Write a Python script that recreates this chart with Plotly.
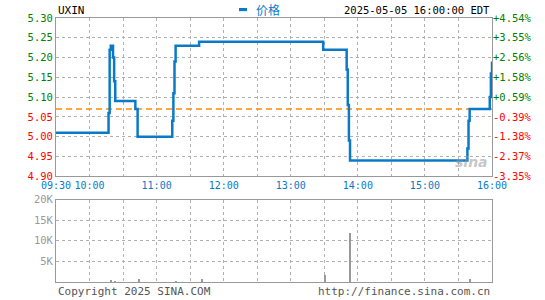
import plotly.graph_objects as go

# ---------------- data ----------------
symbol = "UXIN"
stamp = "2025-05-05 16:00:00 EDT"
prev_close = 5.07

price_times = ["09:30", "10:17", "10:18", "10:19", "10:21", "10:22", "10:23",
               "10:41", "10:43", "11:14", "11:15", "11:16", "11:17", "11:38",
               "13:29", "13:50", "13:51", "13:52", "13:53", "15:38", "15:39",
               "15:40", "15:58", "15:59", "16:00"]
price_values = [5.01, 5.06, 5.22, 5.23, 5.20, 5.14, 5.09,
                5.07, 5.00, 5.04, 5.11, 5.19, 5.23, 5.24,
                5.22, 5.17, 5.08, 4.99, 4.94, 4.97, 5.04,
                5.07, 5.10, 5.16, 5.19]

vol_times = ["10:19", "10:23", "10:44", "11:17", "11:41", "13:31", "13:53", "15:40"]
vol_values = [500, 250, 750, 250, 750, 1850, 12000, 750]

price_ticks = [4.90, 4.95, 5.00, 5.05, 5.10, 5.15, 5.20, 5.25, 5.30]
vol_ticks = [5000, 10000, 15000, 20000]
vol_ticktext = ["5K", "10K", "15K", "20K"]
time_ticks = ["09:30", "10:00", "10:30", "11:00", "11:30", "12:00", "12:30",
              "13:00", "13:30", "14:00", "14:30", "15:00", "15:30", "16:00"]
time_labels = ["09:30", "10:00", "", "11:00", "", "12:00", "",
               "13:00", "", "14:00", "", "15:00", "", "16:00"]


def mins(t):
    h, m = t.split(":")
    return (int(h) - 9) * 60 + int(m) - 30


px = [mins(t) for t in price_times]
vx = [mins(t) for t in vol_times]
tx = [mins(t) for t in time_ticks]

GREEN = "#008000"
RED = "#ff0000"
BLUE = "#0a7ac8"
GRAY = "#999999"
FONT = "DejaVu Sans Mono"

left_text = []
right_text = []
for p in price_ticks:
    col = GREEN if p > prev_close else RED
    left_text.append(f"<span style='color:{col}'>{p:.2f}</span>")
    pct = (p / prev_close - 1) * 100
    right_text.append(f"<span style='color:{col}'>{pct:+.2f}%</span>")

fig = go.Figure()

fig.add_trace(go.Scatter(
    x=[0, 390], y=[prev_close, prev_close], mode="lines",
    line=dict(color="#ff8c00", width=1.5, dash="6px,4px"),
    xaxis="x", yaxis="y", showlegend=False, hoverinfo="skip"))

fig.add_trace(go.Scatter(
    x=px, y=price_values, mode="lines", line_shape="hv",
    line=dict(color=BLUE, width=2.5), name="价格",
    xaxis="x", yaxis="y", showlegend=False))

# invisible trace to show right-side percentage axis
fig.add_trace(go.Scatter(
    x=px, y=price_values, mode="lines", line=dict(width=0),
    xaxis="x", yaxis="y3", showlegend=False, hoverinfo="skip", opacity=0))

fig.add_trace(go.Bar(
    x=vx, y=vol_values, marker=dict(color=GRAY, line=dict(width=0)),
    width=0.9, xaxis="x2", yaxis="y2", showlegend=False))

axis_common = dict(showline=True, linecolor=GRAY, linewidth=1, mirror=True,
                   showgrid=True, gridcolor="#b0b0b0", griddash="dot", gridwidth=1,
                   zeroline=False, ticks="")

fig.update_layout(
    width=545, height=300,
    margin=dict(l=56, r=53, t=18, b=15),
    paper_bgcolor="white", plot_bgcolor="white",
    font=dict(family=FONT, size=10, color="#000"),
    bargap=0,
    xaxis=dict(**axis_common, range=[0, 390], tickvals=tx, ticktext=time_labels,
               tickangle=0, tickfont=dict(color=BLUE, size=10), anchor="y"),
    yaxis=dict(**axis_common, domain=[0.4007, 1], range=[4.90, 5.30],
               tickvals=price_ticks, ticktext=left_text, tickfont=dict(size=10.5)),
    yaxis3=dict(overlaying="y", side="right", range=[4.90, 5.30],
                tickvals=price_ticks, ticktext=right_text, showgrid=False,
                zeroline=False, showline=False, tickfont=dict(size=10.5), anchor="x"),
    xaxis2=dict(**axis_common, range=[0, 390], tickvals=tx, showticklabels=False,
                anchor="y2"),
    yaxis2=dict(**axis_common, domain=[0, 0.312], range=[0, 20000],
                tickvals=vol_ticks, ticktext=vol_ticktext,
                tickfont=dict(color=GRAY, size=10.5)),
)

fig.add_annotation(text=symbol, xref="paper", yref="paper", x=0, y=1.03,
                   xanchor="left", yanchor="middle", showarrow=False,
                   font=dict(size=11, color="#000", family=FONT))
fig.add_annotation(text=stamp, xref="paper", yref="paper", x=1, y=1.03,
                   xanchor="right", yanchor="middle", showarrow=False,
                   font=dict(size=10.5, color="#000", family=FONT))
fig.add_annotation(text="价格", xref="paper", yref="paper", x=0.455, y=1.032,
                   xanchor="left", yanchor="middle", showarrow=False,
                   font=dict(size=12, color=BLUE, family="Noto Sans CJK SC"))
fig.add_shape(type="rect", xref="paper", yref="paper", x0=0.4197, x1=0.438,
              y0=1.026, y1=1.038, fillcolor=BLUE, line=dict(width=0))
fig.add_annotation(text="Copyright 2025 SINA.COM", xref="paper", yref="paper",
                   x=0, y=-0.005, xanchor="left", yanchor="top", showarrow=False,
                   font=dict(size=11, color="#555", family=FONT))
fig.add_annotation(text="http://finance.sina.com.cn", xref="paper", yref="paper",
                   x=1, y=-0.005, xanchor="right", yanchor="top", showarrow=False,
                   font=dict(size=11, color="#555", family=FONT))
fig.add_annotation(text="<b><i>sina</i></b>", xref="paper", yref="paper",
                   x=0.995, y=0.415, xanchor="right", yanchor="bottom", showarrow=False,
                   font=dict(size=14, color="rgba(150,150,150,0.55)", family="DejaVu Sans"))

fig.write_html("out.html")
